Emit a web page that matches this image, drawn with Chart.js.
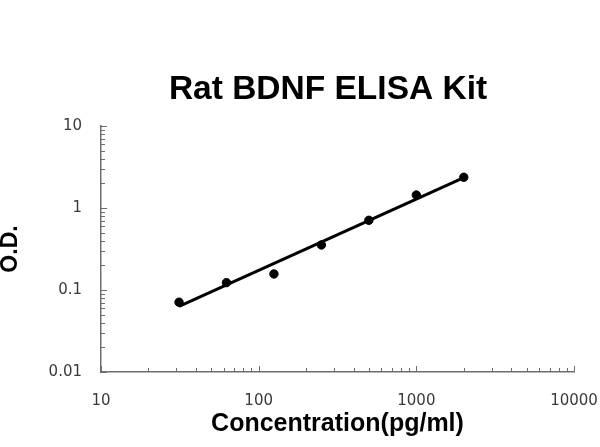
<!DOCTYPE html>
<html>
<head>
<meta charset="utf-8">
<script src="https://cdn.jsdelivr.net/npm/chart.js@4.4.1/dist/chart.umd.min.js"></script>
<style>
html,body{margin:0;padding:0;background:#fff;}
#wrap{width:600px;height:447px;}
</style>
</head>
<body>
<div id="wrap"><canvas id="c" width="600" height="447"></canvas></div>
<script>
// ---- data ----
const chartTitle = "Rat BDNF ELISA Kit";
const xAxisTitle = "Concentration(pg/ml)";
const yAxisTitle = "O.D.";
const concentrations = [31.25, 62.5, 125, 250, 500, 1000, 2000];
const odValues = [0.071, 0.123, 0.157, 0.354, 0.708, 1.44, 2.37];
const trendX = [31.25, 2000];
const trendY = [0.063, 2.35];
const xRange = [10, 10000];
const yRange = [0.01, 10];

function logTicks(min, max) {
  const out = [];
  for (let e = Math.round(Math.log10(min)); e < Math.round(Math.log10(max)); e++) {
    for (let m = 1; m <= 9; m++) out.push({value: +(m * Math.pow(10, e)).toPrecision(6), major: m === 1});
  }
  out.push({value: max, major: true});
  return out;
}
function isDecade(v) { const l = Math.log10(v); return Math.abs(l - Math.round(l)) < 1e-9; }
function fmt(v) { return isDecade(v) ? String(+v.toPrecision(6)) : ''; }

const tickFont = {family: "'DejaVu Sans', Verdana, sans-serif", size: 15};

const innerTicks = {
  id: 'innerTicks',
  afterDraw(chart) {
    const ctx = chart.ctx;
    const xs = chart.scales.x, ys = chart.scales.y;
    const area = chart.chartArea;
    ctx.save();
    ctx.strokeStyle = '#6e6e6e';
    ctx.lineWidth = 1;
    ctx.beginPath();
    xs.ticks.forEach(t => {
      const px = Math.round(xs.getPixelForValue(t.value)) + 0.5;
      const len = isDecade(t.value) ? 6 : 4;
      ctx.moveTo(px, area.bottom);
      ctx.lineTo(px, area.bottom - len);
    });
    ys.ticks.forEach(t => {
      const py = Math.round(ys.getPixelForValue(t.value)) + 0.5;
      const len = isDecade(t.value) ? 6 : 4;
      ctx.moveTo(area.left, py);
      ctx.lineTo(area.left + len, py);
    });
    ctx.stroke();
    // title
    ctx.fillStyle = '#000';
    ctx.font = "bold 33.5px 'Liberation Sans', Arial, sans-serif";
    ctx.textAlign = 'center';
    ctx.textBaseline = 'middle';
    ctx.fillText(chartTitle, 328, 90);
    ctx.restore();
  }
};

new Chart(document.getElementById('c'), {
  type: 'scatter',
  data: {
    datasets: [
      {
        label: 'OD',
        data: concentrations.map((x, i) => ({x: x, y: odValues[i]})),
        backgroundColor: '#000',
        borderColor: '#000',
        pointRadius: 4.2,
        pointHoverRadius: 4.2,
        showLine: false
      },
      {
        label: 'Fit',
        data: trendX.map((x, i) => ({x: x, y: trendY[i]})),
        borderColor: '#000',
        borderWidth: 3,
        pointRadius: 0,
        showLine: true,
        fill: false
      }
    ]
  },
  options: {
    responsive: false,
    animation: false,
    devicePixelRatio: 1,
    layout: {padding: {left: 0, right: 26, top: 126, bottom: 0}},
    plugins: {
      legend: {display: false},
      title: {display: false},
      tooltip: {enabled: false}
    },
    scales: {
      x: {
        type: 'logarithmic',
        min: xRange[0], max: xRange[1],
        afterBuildTicks(s) { s.ticks = logTicks(xRange[0], xRange[1]); },
        afterFit(s) { s.height = 75; s.paddingLeft = 0; s.paddingRight = 0; },
        grid: {display: false},
        border: {display: true, color: '#6e6e6e', width: 1.5},
        ticks: {
          autoSkip: false, maxRotation: 0, padding: 12,
          color: '#3a3a3a', font: tickFont,
          callback: (v) => fmt(v)
        },
        title: {
          display: true, text: xAxisTitle, color: '#000',
          font: {family: "'Liberation Sans', Arial, sans-serif", size: 25, weight: 'bold'},
          padding: {top: 0, bottom: 8}
        }
      },
      y: {
        type: 'logarithmic',
        min: yRange[0], max: yRange[1],
        afterBuildTicks(s) { s.ticks = logTicks(yRange[0], yRange[1]); },
        afterFit(s) { s.width = 101; s.paddingTop = 0; s.paddingBottom = 0; },
        grid: {display: false},
        border: {display: true, color: '#6e6e6e', width: 1.5},
        ticks: {
          autoSkip: false, padding: 11,
          color: '#3a3a3a', font: tickFont,
          callback: (v) => fmt(v)
        },
        title: {
          display: true, text: yAxisTitle, color: '#000',
          font: {family: "'Liberation Sans', Arial, sans-serif", size: 23, weight: 'bold'},
          padding: {top: -3, bottom: 0}
        }
      }
    }
  },
  plugins: [innerTicks]
});
</script>
</body>
</html>
